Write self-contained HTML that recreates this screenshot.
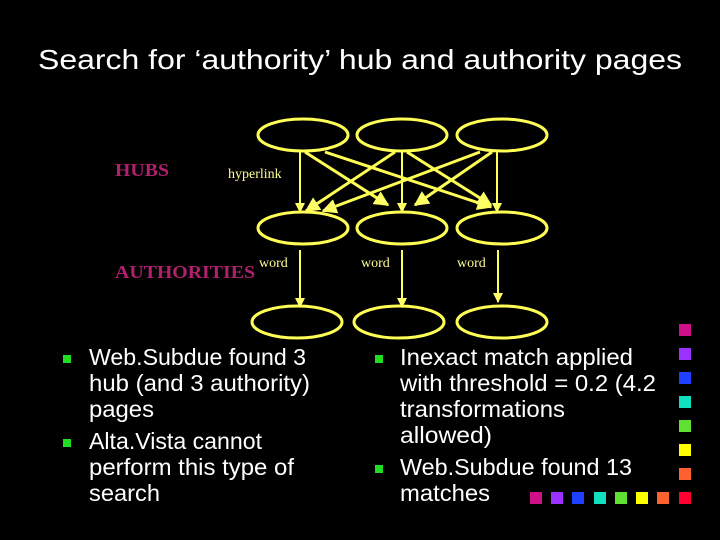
<!DOCTYPE html>
<html><head><meta charset="utf-8"><style>html,body{margin:0;padding:0;background:#000;}svg{display:block}</style></head>
<body>
<svg width="720" height="540" viewBox="0 0 720 540" xmlns="http://www.w3.org/2000/svg">
<defs>
<marker id="a" viewBox="0 0 10 10" refX="9" refY="5" markerWidth="5" markerHeight="5" orient="auto"><path d="M0,0 L10,5 L0,10 z" fill="#ffff66"/></marker>
</defs>
<rect width="720" height="540" fill="#000"/>
<text x="38" y="69" font-family="Liberation Sans, sans-serif" font-size="28" fill="#fff" textLength="644" lengthAdjust="spacingAndGlyphs">Search for ‘authority’ hub and authority pages</text>
<text x="115" y="176" font-family="Liberation Serif, serif" font-size="18" font-weight="bold" fill="#b0206e" textLength="54" lengthAdjust="spacingAndGlyphs">HUBS</text>
<text x="115" y="278" font-family="Liberation Serif, serif" font-size="18" font-weight="bold" fill="#b0206e" textLength="140" lengthAdjust="spacingAndGlyphs">AUTHORITIES</text>
<g font-family="Liberation Serif, serif" font-size="14" fill="#ffff99">
<text x="228" y="178">hyperlink</text>
<text x="259" y="267">word</text>
<text x="361" y="267">word</text>
<text x="457" y="267">word</text>
</g>
<g fill="none" stroke="#ffff55" stroke-width="3">
<ellipse cx="303" cy="135" rx="45" ry="16"/>
<ellipse cx="402" cy="135" rx="45" ry="16"/>
<ellipse cx="502" cy="135" rx="45" ry="16"/>
<ellipse cx="303" cy="228" rx="45" ry="16"/>
<ellipse cx="402" cy="228" rx="45" ry="16"/>
<ellipse cx="502" cy="228" rx="45" ry="16"/>
<ellipse cx="297" cy="322" rx="45" ry="16"/>
<ellipse cx="399" cy="322" rx="45" ry="16"/>
<ellipse cx="502" cy="322" rx="45" ry="16"/>
</g>
<g stroke="#ffff55" stroke-width="2" marker-end="url(#a)">
<line x1="300" y1="152" x2="300" y2="212"/>
<line x1="402" y1="152" x2="402" y2="212"/>
<line x1="497" y1="152" x2="497" y2="212"/>
<line x1="300" y1="250" x2="300" y2="307"/>
<line x1="402" y1="250" x2="402" y2="307"/>
<line x1="498" y1="250" x2="498" y2="302"/>
</g>
<g stroke="#ffff55" stroke-width="3" marker-end="url(#a)">
<line x1="305" y1="152" x2="388" y2="205"/>
<line x1="325" y1="152" x2="491" y2="207"/>
<line x1="395" y1="152" x2="306" y2="211"/>
<line x1="407" y1="152" x2="491" y2="205"/>
<line x1="480" y1="152" x2="323" y2="211"/>
<line x1="492" y1="152" x2="415" y2="205"/>
</g>
<g font-family="Liberation Sans, sans-serif" font-size="23" fill="#fff">
<text x="89" y="365" textLength="217" lengthAdjust="spacingAndGlyphs">Web.Subdue found 3</text>
<text x="89" y="391" textLength="221" lengthAdjust="spacingAndGlyphs">hub (and 3 authority)</text>
<text x="89" y="417" textLength="65" lengthAdjust="spacingAndGlyphs">pages</text>
<text x="89" y="449" textLength="173" lengthAdjust="spacingAndGlyphs">Alta.Vista cannot</text>
<text x="89" y="475" textLength="205" lengthAdjust="spacingAndGlyphs">perform this type of</text>
<text x="89" y="501" textLength="71" lengthAdjust="spacingAndGlyphs">search</text>
<text x="400" y="365" textLength="233" lengthAdjust="spacingAndGlyphs">Inexact match applied</text>
<text x="400" y="391" textLength="256" lengthAdjust="spacingAndGlyphs">with threshold = 0.2 (4.2</text>
<text x="400" y="417" textLength="165" lengthAdjust="spacingAndGlyphs">transformations</text>
<text x="400" y="443" textLength="92" lengthAdjust="spacingAndGlyphs">allowed)</text>
<text x="400" y="475" textLength="232" lengthAdjust="spacingAndGlyphs">Web.Subdue found 13</text>
<text x="400" y="501" textLength="90" lengthAdjust="spacingAndGlyphs">matches</text>
</g>
<g fill="#22dd22">
<rect x="63" y="355" width="8" height="8"/>
<rect x="63" y="439" width="8" height="8"/>
<rect x="375" y="355" width="8" height="8"/>
<rect x="375" y="465" width="8" height="8"/>
</g>
<g>
<rect x="679" y="324" width="12" height="12" fill="#d0108a"/>
<rect x="679" y="348" width="12" height="12" fill="#9b30ff"/>
<rect x="679" y="372" width="12" height="12" fill="#2040ff"/>
<rect x="679" y="396" width="12" height="12" fill="#10e0c0"/>
<rect x="679" y="420" width="12" height="12" fill="#60e030"/>
<rect x="679" y="444" width="12" height="12" fill="#ffff00"/>
<rect x="679" y="468" width="12" height="12" fill="#ff6030"/>
<rect x="679" y="492" width="12" height="12" fill="#ff0030"/>
<rect x="530" y="492" width="12" height="12" fill="#d0108a"/>
<rect x="551" y="492" width="12" height="12" fill="#9b30ff"/>
<rect x="572" y="492" width="12" height="12" fill="#2040ff"/>
<rect x="594" y="492" width="12" height="12" fill="#10e0c0"/>
<rect x="615" y="492" width="12" height="12" fill="#60e030"/>
<rect x="636" y="492" width="12" height="12" fill="#ffff00"/>
<rect x="657" y="492" width="12" height="12" fill="#ff6030"/>
</g>
</svg>
</body></html>
